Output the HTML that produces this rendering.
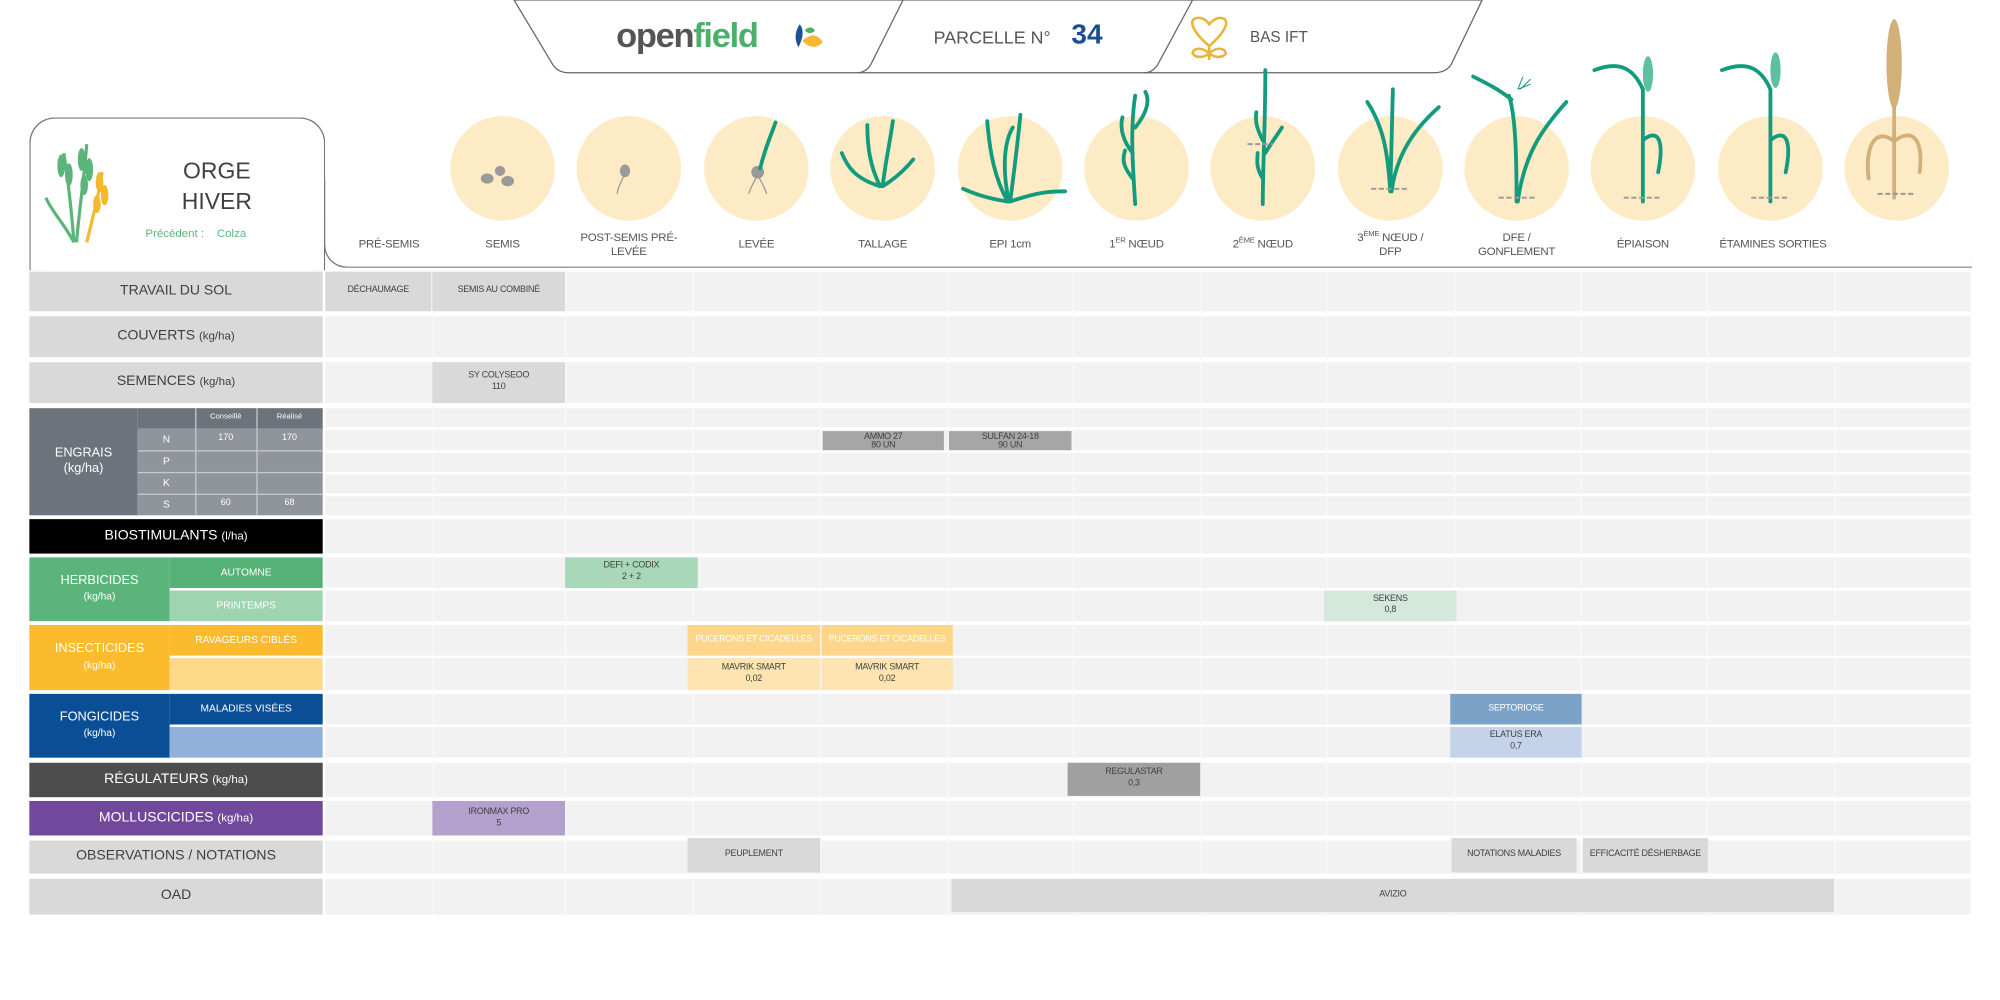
<!DOCTYPE html>
<html><head><meta charset="utf-8">
<style>
html,body{margin:0;padding:0;background:#fff;width:2000px;height:1000px;overflow:hidden}
#w{position:absolute;left:0;top:0;width:1568px;height:784px;transform:scale(1.27551);transform-origin:0 0;font-family:"Liberation Sans",sans-serif}
#w div{position:absolute;box-sizing:border-box}
.c{display:flex;align-items:center;justify-content:center;text-align:center;line-height:1.25}
.lab{font-size:11px;color:#404040}
.sm{font-size:7px;color:#404040;letter-spacing:-0.2px}
.st{font-size:9px;color:#555;letter-spacing:-0.2px}
.w{color:#fff}
.row{left:255px;width:1290px;background:#f2f2f2}
.vl{top:213px;height:505px;width:1px;background:#fafafa}
</style></head><body><div id="w">

<svg style="position:absolute;left:0;top:0" width="1568" height="90">
<path d="M403,0 L1162,0 L1138,50 Q1134,57 1124,57 L446,57 Q437,57 433,50 Z" fill="#fff" stroke="#666" stroke-width="1"/>
<path d="M708,0 L683,50 Q679,57 672,57" fill="none" stroke="#666"/>
<path d="M935,0 L908,50 Q904,57 897,57" fill="none" stroke="#666"/>
<path d="M627,19 q5,6 -1,18 q-5,-9 1,-18z" fill="#1e4f98"/>
<path d="M629,32 q10,-9 16,1 q-7,8 -16,-1z" fill="#f5b82e"/>
<path d="M631,24 q4,-5 8,0 q-4,4 -8,0z" fill="#4caf6a"/>
<g fill="none" stroke="#e8b53a" stroke-width="2"><path d="M948,36 C935,25 930,14 940,14 C945,14 948,19 948,19 C948,19 952,14 957,14 C966,15 960,26 948,36Z"/><path d="M948,36 L948,47 M948,42 C942,36 935,38 935,42 C938,46 944,45 948,42 M948,42 C954,36 961,38 961,42 C958,46 952,45 948,42"/></g>
</svg>
<div style="left:483px;top:13px;font-size:27px;font-weight:bold;letter-spacing:-1px"><span style="color:#555">open</span><span style="color:#4caf6a">field</span></div>
<div style="left:732px;top:21px;font-size:14px;color:#555">PARCELLE N°</div>
<div style="left:840px;top:14px;font-size:22px;font-weight:bold;color:#1a4f8f">34</div>
<div style="left:980px;top:22px;font-size:12px;color:#555">BAS IFT</div>

<div style="left:23px;top:92px;width:232px;height:120px;border:1px solid #777;border-bottom:none;border-radius:20px 20px 0 0;background:#fff"></div>
<div style="left:254px;top:150px;width:1292px;height:60px;border-left:1px solid #777;border-bottom:1.5px solid #777;border-radius:0 0 0 18px;background:transparent"></div>
<div style="left:253px;top:140px;width:4px;height:30px;background:#fff"></div>
<div style="left:254px;top:140px;width:1px;height:30px;background:#777"></div>
<svg style="position:absolute;left:30px;top:105px" width="60" height="90">
<g stroke="#5bb57a" stroke-width="2.5" fill="none"><path d="M28,85 C26,60 24,40 20,15"/><path d="M30,85 C32,60 36,35 38,8"/><path d="M28,85 C20,70 10,60 6,50"/></g>
<g fill="#5bb57a"><ellipse cx="18" cy="25" rx="3" ry="9"/><ellipse cx="24" cy="32" rx="3" ry="9"/><ellipse cx="34" cy="20" rx="3" ry="9"/><ellipse cx="40" cy="28" rx="3" ry="9"/><ellipse cx="36" cy="40" rx="3" ry="8"/></g>
<path d="M38,85 C44,60 48,45 50,30" stroke="#f5b82e" stroke-width="2.5" fill="none"/>
<g fill="#f5b82e"><ellipse cx="48" cy="38" rx="3" ry="8"/><ellipse cx="52" cy="48" rx="3" ry="8"/><ellipse cx="46" cy="55" rx="3" ry="7"/></g>
</svg>
<div style="left:120px;top:122px;width:100px;font-size:18px;color:#404040;text-align:center;line-height:24px">ORGE<br>HIVER</div>
<div style="left:114px;top:178px;font-size:9px;color:#5bb57a">Précédent :&nbsp;&nbsp;&nbsp;&nbsp;Colza</div>

<svg style="position:absolute;left:0;top:0" width="1568" height="180">
<g fill="#fdebc6">
<circle cx="394" cy="132" r="41"/><circle cx="493" cy="132" r="41"/><circle cx="593" cy="132" r="41"/><circle cx="692" cy="132" r="41"/><circle cx="792" cy="132" r="41"/><circle cx="891" cy="132" r="41"/><circle cx="990" cy="132" r="41"/><circle cx="1090" cy="132" r="41"/><circle cx="1189" cy="132" r="41"/><circle cx="1288" cy="132" r="41"/><circle cx="1388" cy="132" r="41"/><circle cx="1487" cy="132" r="41"/>
</g>
<g fill="#9a9a9a"><ellipse cx="382" cy="140" rx="5" ry="4"/><ellipse cx="392" cy="134" rx="4" ry="4"/><ellipse cx="398" cy="142" rx="5" ry="4"/><ellipse cx="490" cy="134" rx="4" ry="5"/><ellipse cx="594" cy="135" rx="5" ry="5"/></g>
<g stroke="#9a9a9a" fill="none" stroke-width="1"><path d="M489,138 C486,145 484,148 484,152"/><path d="M593,139 C590,145 588,148 587,152 M595,139 C598,145 600,148 601,152"/></g>
<g stroke="#139b7e" fill="none" stroke-width="3" stroke-linecap="round">
<path d="M596,132 C600,115 605,105 608,96"/>
<path d="M690,146 C682,130 680,115 680,98 M692,146 C694,128 698,110 700,95 M690,146 C670,140 664,130 660,120 M692,146 C705,138 712,130 716,125"/>
<path d="M790,158 C780,140 776,120 774,95 M792,158 C795,135 798,110 800,90 M790,158 C770,155 760,150 755,148 M792,158 C815,150 825,150 835,150 M791,158 C785,130 788,110 794,100"/>
<path d="M890,160 C888,130 886,100 890,75 M888,120 C880,110 878,100 880,92 M890,100 C898,90 902,80 898,72 M888,140 C880,130 880,125 882,118"/>
<path d="M990,160 C990,130 992,100 992,55 M990,110 C985,100 984,95 985,88 M992,120 C998,110 1002,105 1005,100 M990,140 C984,130 986,125 986,120"/>
<path d="M1090,150 C1088,120 1085,100 1072,80 M1091,150 C1095,120 1110,100 1128,84 M1090,150 L1092,70"/>
<path d="M1189,158 C1189,120 1188,90 1183,75 M1190,158 C1195,120 1210,100 1228,80 M1185,78 C1175,70 1165,65 1155,60"/>
<path d="M1288,158 L1288,70 C1280,52 1268,48 1250,55 M1288,110 C1300,100 1305,110 1300,135"/>
<path d="M1388,158 L1388,70 C1380,52 1368,48 1350,55 M1388,110 C1400,100 1405,110 1400,135"/>
</g>
<g fill="#5fbfa0"><ellipse cx="1292" cy="58" rx="4" ry="14"/><ellipse cx="1392" cy="55" rx="4" ry="14"/></g>
<g stroke="#139b7e" fill="none" stroke-width="0.8"><path d="M1190,70 l4,-10 M1192,70 l8,-8 M1190,70 l10,-4"/></g>
<g stroke="#d2b07a" fill="none" stroke-width="3" stroke-linecap="round"><path d="M1485,155 L1485,20 M1484,110 C1470,100 1462,115 1465,140 M1486,110 C1500,100 1508,110 1505,135"/></g>
<ellipse cx="1485" cy="50" rx="6" ry="35" fill="#d2b07a"/>
<g stroke="#999" stroke-width="1.5" stroke-dasharray="4,2"><path d="M1075,148 h30 M1175,155 h30 M1273,155 h30 M1373,155 h30 M1472,152 h30 M978,113 h20"/></g>
</svg>
<div class="st c" style="left:270px;top:185px;width:70px;height:14px">PRÉ-SEMIS</div>
<div class="st c" style="left:354px;top:185px;width:80px;height:14px">SEMIS</div>
<div class="st c" style="left:450px;top:180px;width:86px;height:24px"><span>POST-SEMIS PRÉ-<br>LEVÉE</span></div>
<div class="st c" style="left:553px;top:185px;width:80px;height:14px">LEVÉE</div>
<div class="st c" style="left:652px;top:185px;width:80px;height:14px">TALLAGE</div>
<div class="st c" style="left:752px;top:185px;width:80px;height:14px">EPI 1cm</div>
<div class="st c" style="left:851px;top:185px;width:80px;height:14px"><span>1<sup style="font-size:6px">ER</sup> NŒUD</span></div>
<div class="st c" style="left:950px;top:185px;width:80px;height:14px"><span>2<sup style="font-size:6px">ÈME</sup> NŒUD</span></div>
<div class="st c" style="left:1050px;top:180px;width:80px;height:24px"><span>3<sup style="font-size:6px">ÈME</sup> NŒUD /<br>DFP</span></div>
<div class="st c" style="left:1149px;top:180px;width:80px;height:24px"><span>DFE /<br>GONFLEMENT</span></div>
<div class="st c" style="left:1248px;top:185px;width:80px;height:14px">ÉPIAISON</div>
<div class="st c" style="left:1340px;top:185px;width:100px;height:14px">ÉTAMINES SORTIES</div>

<div class="row" style="top:213px;height:31px"></div>
<div class="row" style="top:248px;height:32px"></div>
<div class="row" style="top:284px;height:32px"></div>
<div class="row" style="top:320px;height:15px"></div>
<div class="row" style="top:337px;height:16px"></div>
<div class="row" style="top:355px;height:15px"></div>
<div class="row" style="top:372px;height:15px"></div>
<div class="row" style="top:389px;height:15px"></div>
<div class="row" style="top:407px;height:27px"></div>
<div class="row" style="top:437px;height:24px"></div>
<div class="row" style="top:463px;height:24px"></div>
<div class="row" style="top:490px;height:24px"></div>
<div class="row" style="top:516px;height:25px"></div>
<div class="row" style="top:544px;height:24px"></div>
<div class="row" style="top:570px;height:24px"></div>
<div class="row" style="top:598px;height:27px"></div>
<div class="row" style="top:628px;height:27px"></div>
<div class="row" style="top:659px;height:26px"></div>
<div class="row" style="top:689px;height:28px"></div>
<div class="vl" style="left:339px"></div><div class="vl" style="left:443px"></div><div class="vl" style="left:543px"></div><div class="vl" style="left:643px"></div><div class="vl" style="left:743px"></div><div class="vl" style="left:841px"></div><div class="vl" style="left:941px"></div><div class="vl" style="left:1040px"></div><div class="vl" style="left:1140px"></div><div class="vl" style="left:1239px"></div><div class="vl" style="left:1338px"></div><div class="vl" style="left:1438px"></div>

<div class="c lab" style="left:23px;top:213px;width:230px;height:31px;background:#d9d9d9">TRAVAIL DU SOL</div>
<div class="c lab" style="left:23px;top:248px;width:230px;height:32px;background:#d9d9d9"><span>COUVERTS <span style="font-size:9px">(kg/ha)</span></span></div>
<div class="c lab" style="left:23px;top:284px;width:230px;height:32px;background:#d9d9d9"><span>SEMENCES <span style="font-size:9px">(kg/ha)</span></span></div>
<div class="c lab w" style="left:23px;top:320px;width:85px;height:84px;background:#6d737b;font-size:10px"><span>ENGRAIS<br>(kg/ha)</span></div>
<div style="left:108px;top:320px;width:145px;height:16px;background:#6d737b"></div>
<div style="left:108px;top:336px;width:145px;height:68px;background:#8f959a"></div>
<div style="left:108px;top:353px;width:145px;height:1px;background:#c8cbce"></div>
<div style="left:108px;top:370px;width:145px;height:1px;background:#c8cbce"></div>
<div style="left:108px;top:387px;width:145px;height:1px;background:#c8cbce"></div>
<div style="left:153px;top:320px;width:1px;height:84px;background:#c8cbce"></div>
<div style="left:201px;top:320px;width:1px;height:84px;background:#c8cbce"></div>
<div class="c w" style="left:153px;top:320px;width:48px;height:16px;font-size:6px">Conseillé</div>
<div class="c w" style="left:201px;top:320px;width:52px;height:16px;font-size:6px">Réalisé</div>
<div class="c w" style="left:108px;top:336px;width:45px;height:17px;font-size:8px">N</div>
<div class="c w" style="left:108px;top:353px;width:45px;height:17px;font-size:8px">P</div>
<div class="c w" style="left:108px;top:370px;width:45px;height:17px;font-size:8px">K</div>
<div class="c w" style="left:108px;top:387px;width:45px;height:17px;font-size:8px">S</div>
<div class="c w" style="left:153px;top:336px;width:48px;height:17px;font-size:7px">170</div>
<div class="c w" style="left:201px;top:336px;width:52px;height:17px;font-size:7px">170</div>
<div class="c w" style="left:153px;top:387px;width:48px;height:17px;font-size:7px">60</div>
<div class="c w" style="left:201px;top:387px;width:52px;height:17px;font-size:7px">68</div>
<div class="c lab w" style="left:23px;top:407px;width:230px;height:27px;background:#000"><span>BIOSTIMULANTS <span style="font-size:9px">(l/ha)</span></span></div>
<div class="c lab w" style="left:23px;top:437px;width:110px;height:50px;background:#5bb57a;font-size:10px"><span>HERBICIDES<br><span style="font-size:8px">(kg/ha)</span></span></div>
<div class="c w" style="left:133px;top:437px;width:120px;height:24px;background:#55b276;font-size:8px">AUTOMNE</div>
<div class="c w" style="left:133px;top:463px;width:120px;height:24px;background:#9fd4b1;font-size:8px">PRINTEMPS</div>
<div class="c lab w" style="left:23px;top:490px;width:110px;height:51px;background:#fbbb2d;font-size:10px"><span>INSECTICIDES<br><span style="font-size:8px">(kg/ha)</span></span></div>
<div class="c w" style="left:133px;top:490px;width:120px;height:24px;background:#fbbb2d;font-size:8px">RAVAGEURS CIBLÉS</div>
<div style="left:133px;top:516px;width:120px;height:25px;background:#fdd98a"></div>
<div class="c lab w" style="left:23px;top:544px;width:110px;height:50px;background:#0a4f96;font-size:10px"><span>FONGICIDES<br><span style="font-size:8px">(kg/ha)</span></span></div>
<div class="c w" style="left:133px;top:544px;width:120px;height:24px;background:#0a4f96;font-size:8px">MALADIES VISÉES</div>
<div style="left:133px;top:570px;width:120px;height:24px;background:#93b0da"></div>
<div class="c lab w" style="left:23px;top:598px;width:230px;height:27px;background:#4d4d4d"><span>RÉGULATEURS <span style="font-size:9px">(kg/ha)</span></span></div>
<div class="c lab w" style="left:23px;top:628px;width:230px;height:27px;background:#71489b"><span>MOLLUSCICIDES <span style="font-size:9px">(kg/ha)</span></span></div>
<div class="c lab" style="left:23px;top:659px;width:230px;height:26px;background:#d9d9d9">OBSERVATIONS / NOTATIONS</div>
<div class="c lab" style="left:23px;top:689px;width:230px;height:28px;background:#d9d9d9">OAD</div>

<div class="c sm" style="left:255px;top:213px;width:83px;height:31px;background:#d9d9d9">DÉCHAUMAGE</div>
<div class="c sm" style="left:339px;top:213px;width:104px;height:31px;background:#d9d9d9">SEMIS AU COMBINÉ</div>
<div class="c sm" style="left:339px;top:284px;width:104px;height:32px;background:#d9d9d9"><span>SY COLYSEOO<br>110</span></div>
<div class="c sm" style="left:645px;top:338px;width:95px;height:15px;background:#a6a6a6;line-height:1"><span>AMMO 27<br>80 UN</span></div>
<div class="c sm" style="left:744px;top:338px;width:96px;height:15px;background:#a6a6a6;line-height:1"><span>SULFAN 24-18<br>90 UN</span></div>
<div class="c sm" style="left:443px;top:437px;width:104px;height:24px;background:#a9d8b8"><span>DEFI + CODIX<br>2 + 2</span></div>
<div class="c sm" style="left:1038px;top:463px;width:104px;height:24px;background:#d5e8dc"><span>SEKENS<br>0,8</span></div>
<div class="c sm w" style="left:539px;top:490px;width:104px;height:24px;background:#fdd68a">PUCERONS ET CICADELLES</div>
<div class="c sm w" style="left:644px;top:490px;width:103px;height:24px;background:#fdd68a">PUCERONS ET CICADELLES</div>
<div class="c sm" style="left:539px;top:516px;width:104px;height:25px;background:#fde4b0"><span>MAVRIK SMART<br>0,02</span></div>
<div class="c sm" style="left:644px;top:516px;width:103px;height:25px;background:#fde4b0"><span>MAVRIK SMART<br>0,02</span></div>
<div class="c sm w" style="left:1137px;top:544px;width:103px;height:24px;background:#7ba3c8">SEPTORIOSE</div>
<div class="c sm" style="left:1137px;top:570px;width:103px;height:24px;background:#c5d3ea"><span>ELATUS ERA<br>0,7</span></div>
<div class="c sm" style="left:837px;top:598px;width:104px;height:26px;background:#a0a0a0"><span>REGULASTAR<br>0,3</span></div>
<div class="c sm" style="left:339px;top:628px;width:104px;height:27px;background:#b3a0cc"><span>IRONMAX PRO<br>5</span></div>
<div class="c sm" style="left:539px;top:657px;width:104px;height:27px;background:#d9d9d9">PEUPLEMENT</div>
<div class="c sm" style="left:1138px;top:657px;width:98px;height:27px;background:#d9d9d9">NOTATIONS MALADIES</div>
<div class="c sm" style="left:1241px;top:657px;width:98px;height:27px;background:#d9d9d9">EFFICACITÉ DÉSHERBAGE</div>
<div class="c sm" style="left:746px;top:689px;width:692px;height:26px;background:#d9d9d9">AVIZIO</div>

</div></body></html>
